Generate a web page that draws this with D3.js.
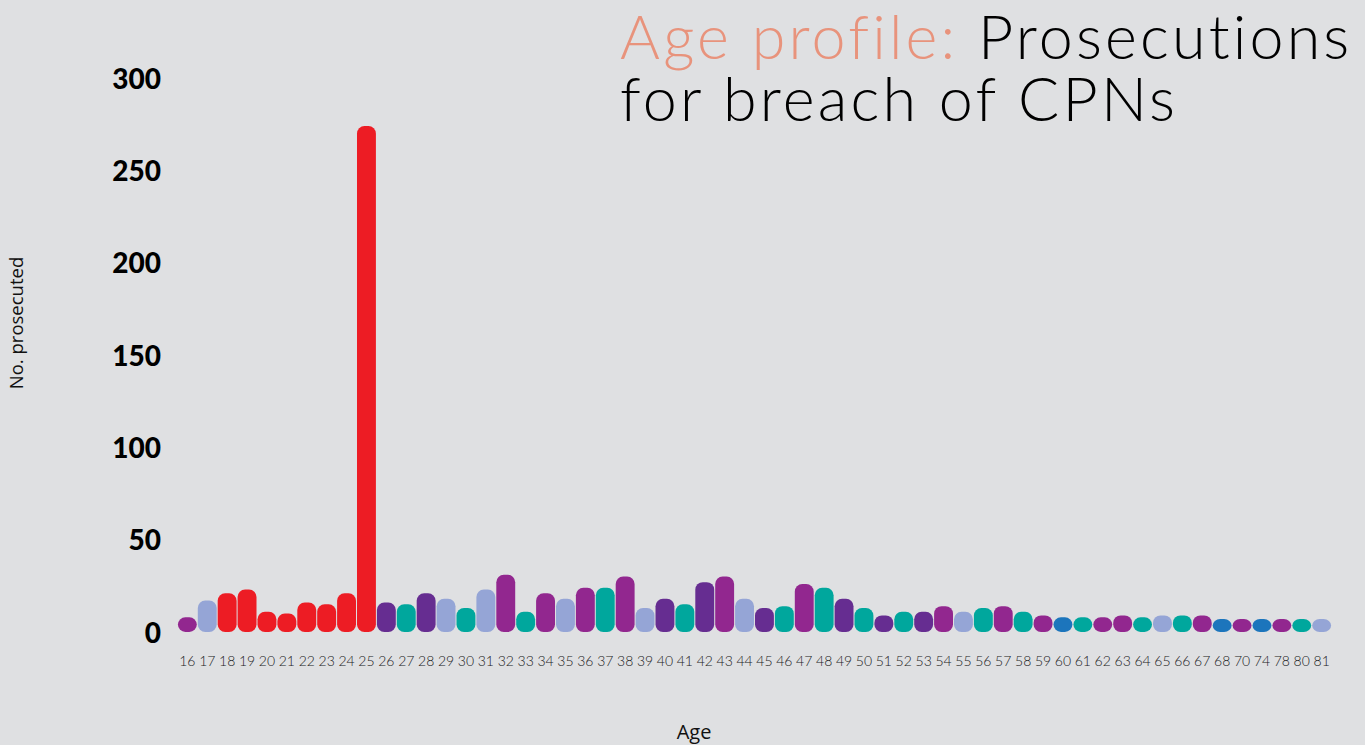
<!DOCTYPE html>
<html>
<head>
<meta charset="utf-8">
<script src="https://cdn.jsdelivr.net/npm/d3@7"></script>
<style>
  body { margin: 0; background: #dfe0e2; }
  svg { display: block; }
</style>
</head>
<body>
<div id="chart"></div>
<script>
// data
let ages = ["16","17","18","19","20","21","22","23","24","25","26","27","28","29","30",
    "31","32","33","34","35","36","37","38","39","40","41","42","43","44","45","46","47",
    "48","49","50","51","52","53","54","55","56","57","58","59","60","61","62","63","64",
    "65","66","67","68","70","74","78","80","81"];
let prosecuted = [8,17,21,23,11,10,16,15,21,274,16,15,21,18,13,
    23,31,11,21,18,24,24,30,13,18,15,27,30,18,13,14,26,
    24,18,13,9,11,11,14,11,13,14,11,9,8,8,8,9,8,
    9,9,9,7,7,7,7,7,7];
let barColors = ["p","l","r","r","r","r","r","r","r","r","d","t","d","l","t",
    "l","p","t","p","l","p","t","p","l","d","t","d","p","l","d","t","p",
    "t","d","t","d","t","d","p","l","t","p","t","p","b","t","p","p","t",
    "l","t","p","b","p","b","p","t","l"];
let yTicks = [0, 50, 100, 150, 200, 250, 300];

let palette = {
    r: "#ed1c24",
    l: "#95a5d6",
    p: "#92278f",
    d: "#662d91",
    t: "#00a79d",
    b: "#1c75bc"
};

let width = 1365, height = 745;

let svg = d3.select("#chart").append("svg")
    .attr("width", width)
    .attr("height", height);

svg.append("rect").attr("width", width).attr("height", height).attr("fill", "#dfe0e2");

let x = d3.scaleBand()
    .domain(ages)
    .range([177.5, 1331.5])
    .paddingInner(0.05)
    .paddingOuter(0.02);

let y = d3.scaleLinear()
    .domain([0, 300])
    .range([632, 78]);

// bars
svg.append("g").selectAll("rect")
    .data(ages)
    .enter().append("rect")
    .attr("x", d => x(d))
    .attr("width", x.bandwidth())
    .attr("y", (d, i) => y(prosecuted[i]))
    .attr("height", (d, i) => y(0) - y(prosecuted[i]))
    .attr("rx", 7.5)
    .attr("fill", (d, i) => palette[barColors[i]]);

// y axis labels (no line)
let yAxis = d3.axisLeft(y).tickValues(yTicks).tickSize(0).tickPadding(0);
let yg = svg.append("g")
    .attr("transform", "translate(161,0)")
    .call(yAxis);
yg.select(".domain").remove();
yg.selectAll("text")
    .attr("fill", "#000")
    .style("font-family", "Lato")
    .style("font-weight", 900)
    .style("font-size", "28px")
    .attr("dy", "0.36em");

// x axis labels
let xAxis = d3.axisBottom(x).tickSize(0).tickPadding(0);
let xg = svg.append("g")
    .attr("transform", "translate(0,655)")
    .call(xAxis);
xg.select(".domain").remove();
xg.selectAll("text")
    .attr("fill", "#222")
    .attr("dy", "0.75em")
    .style("font-family", "Lato")
    .style("font-weight", 300)
    .style("font-size", "14px");

// axis titles
svg.append("text")
    .attr("transform", "translate(23,323) rotate(-90)")
    .attr("text-anchor", "middle")
    .style("font-family", "Open Sans")
    .style("font-size", "18.5px")
    .attr("fill", "#111")
    .text("No. prosecuted");

svg.append("text")
    .attr("x", 694)
    .attr("y", 739)
    .attr("text-anchor", "middle")
    .style("font-family", "Open Sans")
    .style("font-size", "20px")
    .attr("fill", "#111")
    .text("Age");

// title
let title = svg.append("g").style("font-family", "Lato").style("font-weight", 300);
let line1 = title.append("text")
    .attr("x", 620)
    .attr("y", 59)
    .style("font-size", "61px");
line1.append("tspan").attr("fill", "#e8937c").text("Age profile: ");
line1.append("tspan").attr("fill", "#000").text("Prosecutions");
let line2 = title.append("text")
    .attr("x", 620)
    .attr("y", 121)
    .style("font-size", "61px")
    .attr("fill", "#000")
    .text("for breach of CPNs");

// stretch line 1 to its width in the picture with letter spacing
let w1 = line1.node().getComputedTextLength();
let n1 = "Age profile: Prosecutions".length;
let ls = (732 - w1) / n1;
line1.style("letter-spacing", ls + "px");
line2.style("letter-spacing", ls + "px");
</script>
</body>
</html>
